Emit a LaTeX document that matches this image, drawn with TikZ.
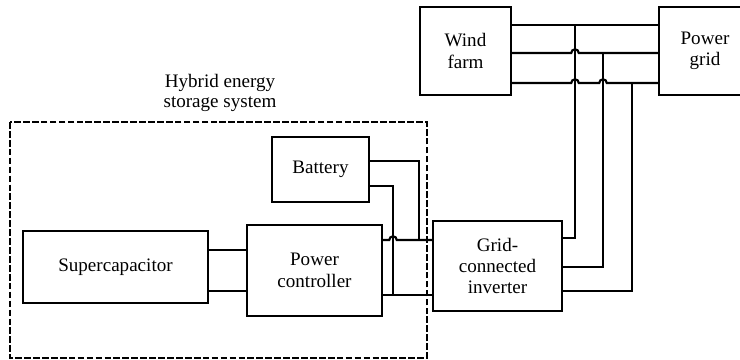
\documentclass[tikz,border=0pt]{standalone}
\usepackage{fontspec}
\setmainfont{Liberation Serif}
\usetikzlibrary{calc}
\tikzset{
  unit/.style={draw, line width=1.7pt, align=center, inner sep=0pt,
    font=\fontsize{14.3}{16}\selectfont},
  link/.style={line width=1.6pt},
}
\newcommand{\hop}{arc[start angle=180, end angle=0, radius=2.8pt]}

\begin{document}
\begin{tikzpicture}[x=0.75pt, y=-0.75pt]
  \useasboundingbox (0,0) rectangle (740,360);
  \clip (0,0) rectangle (740,360);
  % storage side
  \draw[line width=1.5pt, dash pattern=on 5pt off 1.7pt] (10,122) rectangle (427,358);
  \node[align=center, font=\fontsize{14.3}{15.5}\selectfont] (hess) at (220,93) {Hybrid energy\\storage system};
  \node[unit, minimum width=138.75pt, minimum height=54pt] (sc) at (115.5,267) {Supercapacitor};
  \node[unit, minimum width=101.25pt, minimum height=68.25pt] (pc) at (314.5,270.5) {Power\\controller};
  \node[unit, minimum width=72.75pt, minimum height=48.75pt] (bat) at (320.5,169.5) {Battery};
  % grid side
  \node[unit, minimum width=96.75pt, minimum height=67.5pt] (inv) at (497.5,266) {Grid-\\connected\\inverter};
  \node[unit, minimum width=68.25pt, minimum height=66pt] (wf) at (465.5,51) {Wind\\farm};
  \node[unit, minimum width=69pt, minimum height=66pt] (grid) at (705,51) {Power\\grid};

  \coordinate (v1) at (575,25);
  \coordinate (v2) at (603,53);
  \coordinate (v3) at (632,83);
  \coordinate (o1) at (575,238);
  \coordinate (o2) at (603,267);
  \coordinate (o3) at (632,291);
  \coordinate (p1) at (419,240);
  \coordinate (p2) at (393,295);
  \coordinate (q1) at (419,161);
  \coordinate (q2) at (393,186);
  \coordinate (s1) at (247,250);
  \coordinate (s2) at (247,291);

  % three-phase lines
  \draw[link] (wf.east |- v1) -- (grid.west |- v1);
  \draw[link] (wf.east |- v2) -- ($(v1 |- v2)-(3.73,0)$) \hop -- (grid.west |- v2);
  \draw[link] (wf.east |- v3) -- ($(v1 |- v3)-(3.73,0)$) \hop
    -- ($(v2 |- v3)-(3.73,0)$) \hop -- (grid.west |- v3);
  \draw[link] (inv.east |- o1) -- (o1) -- (v1);
  \draw[link] (inv.east |- o2) -- (o2) -- (v2);
  \draw[link] (inv.east |- o3) -- (o3) -- (v3);
  % dc side
  \draw[link] (pc.east |- p1) -- ($(p2 |- p1)-(3.73,0)$) \hop -- (inv.west |- p1);
  \draw[link] (pc.east |- p2) -- (inv.west |- p2);
  \draw[link] (bat.east |- q1) -- (q1) -- (p1);
  \draw[link] (bat.east |- q2) -- (q2) -- (p2);
  \draw[link] (sc.east |- s1) -- (pc.west |- s1);
  \draw[link] (sc.east |- s2) -- (pc.west |- s2);
\end{tikzpicture}
\end{document}
